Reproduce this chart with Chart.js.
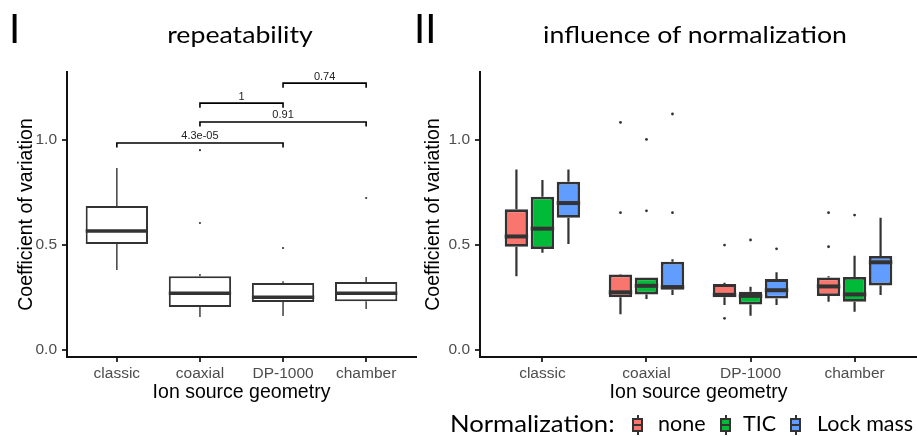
<!DOCTYPE html>
<html>
<head>
<meta charset="utf-8">
<script src="https://cdn.jsdelivr.net/npm/chart.js@4.4.1/dist/chart.umd.min.js"></script>
<style>
  body { margin: 0; width: 917px; height: 437px; background: #fff; position: relative; overflow: hidden; font-family: Lato, sans-serif; }
  canvas { position: absolute; top: 0; }
  .t { position: absolute; color: #000; white-space: nowrap; line-height: 1; }
  .title { top: 22.6px; font-size: 23px; transform: translateX(-50%) scaleX(1.16); }
  .lab { top: 413.4px; font-size: 21.5px; }
  .key { position: absolute; top: 415px; width: 11px; height: 20px; }
  .key .wh { position: absolute; left: 4.5px; top: 0; width: 2px; height: 20px; background: #333; }
  .key .bx { position: absolute; left: 0; top: 3px; width: 11px; height: 14px; box-sizing: border-box; border: 2px solid #333; }
  .key .md { position: absolute; left: 0; top: 9px; width: 11px; height: 2px; background: #333; }
</style>
</head>
<body>
<canvas id="c1" width="417" height="437" style="left:0"></canvas>
<canvas id="c2" width="517" height="437" style="left:400px"></canvas>

<div class="t" style="left:9px;top:7.5px;font-size:40px">I</div>
<div class="t title" style="left:240px">repeatability</div>
<div class="t" style="left:414px;top:7.5px;font-size:40px">II</div>
<div class="t title" style="left:695px">influence of normalization</div>

<div class="t" style="left:450px;top:410.7px;font-size:24px;transform-origin:left;transform:scaleX(1.07)">Normalization:</div>
<div class="key" style="left:632px"><div class="wh"></div><div class="bx" style="background:#F8766D"></div><div class="md"></div></div>
<div class="t lab" style="left:658px">none</div>
<div class="key" style="left:720px"><div class="wh"></div><div class="bx" style="background:#00BA38"></div><div class="md"></div></div>
<div class="t lab" style="left:743px">TIC</div>
<div class="key" style="left:790px"><div class="wh"></div><div class="bx" style="background:#619CFF"></div><div class="md"></div></div>
<div class="t lab" style="left:817px">Lock mass</div>

<script>
// categories
var cats = ['classic', 'coaxial', 'DP-1000', 'chamber'];
var yTicks = [0, 0.5, 1.0];

// panel I: repeatability (no normalization)
var repLo  = [0.381, 0.157, 0.162, 0.195];
var repQ1  = [0.505, 0.205, 0.229, 0.233];
var repMed = [0.567, 0.271, 0.252, 0.271];
var repQ3  = [0.686, 0.352, 0.319, 0.324];
var repHi  = [0.867, 0.362, 0.328, 0.348];
var repOut = [[], [0.605, 0.952], [0.486], [0.724]];

// pairwise comparisons (category numbers 1..4) and p values
var pFrom  = [1, 2, 2, 3];
var pTo    = [3, 4, 3, 4];
var pLevel = [0.986, 1.086, 1.176, 1.271];
var pText  = ['4.3e-05', '0.91', '1', '0.74'];

// panel II: normalization none / TIC / Lock mass
var noneLo  = [0.352, 0.171, 0.214, 0.230];
var noneQ1  = [0.492, 0.251, 0.251, 0.257];
var noneMed = [0.541, 0.275, 0.263, 0.303];
var noneQ3  = [0.670, 0.360, 0.314, 0.346];
var noneHi  = [0.860, 0.362, 0.321, 0.352];
var noneOut = [[], [0.654, 1.084], [0.500, 0.151], [0.654, 0.492]];

var ticLo  = [0.463, 0.243, 0.163, 0.182];
var ticQ1  = [0.481, 0.265, 0.217, 0.230];
var ticMed = [0.578, 0.306, 0.258, 0.265];
var ticQ3  = [0.730, 0.346, 0.278, 0.348];
var ticHi  = [0.810, 0.346, 0.302, 0.449];
var ticOut = [[], [0.663, 1.003], [0.524], [0.643]];

var lockLo  = [0.505, 0.262, 0.214, 0.262];
var lockQ1  = [0.630, 0.287, 0.245, 0.308];
var lockMed = [0.700, 0.300, 0.285, 0.418];
var lockQ3  = [0.802, 0.421, 0.338, 0.448];
var lockHi  = [0.860, 0.432, 0.370, 0.630];
var lockOut = [[], [0.654, 1.124], [0.482], []];

function boxes(q1, q3) {
    return cats.map(function (c, i) { return {x: i + 1, y: [q1[i], q3[i]]}; });
}

// whiskers, medians, outliers and comparison brackets
var boxExtras = {
    id: 'boxExtras',
    beforeDatasetsDraw: function (chart) {
        var ctx = chart.ctx, ys = chart.scales.y;
        chart.data.datasets.forEach(function (ds, d) {
            chart.getDatasetMeta(d).data.forEach(function (bar, i) {
                ctx.save();
                ctx.strokeStyle = '#333333';
                ctx.lineWidth = ds.whisker;
                ctx.beginPath();
                ctx.moveTo(bar.x, ys.getPixelForValue(ds.hi[i]));
                ctx.lineTo(bar.x, ys.getPixelForValue(ds.q3[i]));
                ctx.moveTo(bar.x, ys.getPixelForValue(ds.q1[i]));
                ctx.lineTo(bar.x, ys.getPixelForValue(ds.lo[i]));
                ctx.stroke();
                ctx.restore();
            });
        });
    },
    afterDatasetsDraw: function (chart, args, opts) {
        var ctx = chart.ctx, ys = chart.scales.y, xs = chart.scales.x;
        chart.data.datasets.forEach(function (ds, d) {
            chart.getDatasetMeta(d).data.forEach(function (bar, i) {
                ctx.save();
                ctx.strokeStyle = '#333333';
                ctx.lineWidth = ds.medianWidth;
                var m = ys.getPixelForValue(ds.med[i]);
                ctx.beginPath();
                ctx.moveTo(bar.x - bar.width / 2, m);
                ctx.lineTo(bar.x + bar.width / 2, m);
                ctx.stroke();
                ctx.fillStyle = '#333333';
                ds.out[i].forEach(function (v) {
                    ctx.beginPath();
                    ctx.arc(bar.x, ys.getPixelForValue(v), ds.dot, 0, Math.PI * 2);
                    ctx.fill();
                });
                ctx.restore();
            });
        });
        if (opts && opts.brackets) {
            ctx.save();
            ctx.strokeStyle = '#000';
            ctx.lineWidth = 1.6;
            ctx.fillStyle = '#222';
            ctx.font = '11px "Liberation Sans", Arial, sans-serif';
            ctx.textAlign = 'center';
            ctx.textBaseline = 'alphabetic';
            opts.brackets.from.forEach(function (a, k) {
                var x1 = xs.getPixelForValue(a), x2 = xs.getPixelForValue(opts.brackets.to[k]);
                var yy = ys.getPixelForValue(opts.brackets.level[k]);
                var tip = ys.getPixelForValue(opts.brackets.level[k] - 0.022);
                ctx.beginPath();
                ctx.moveTo(x1, tip);
                ctx.lineTo(x1, yy);
                ctx.lineTo(x2, yy);
                ctx.lineTo(x2, tip);
                ctx.stroke();
                ctx.fillText(opts.brackets.text[k], (x1 + x2) / 2, yy - 3.5);
            });
            ctx.restore();
        }
    }
};

function makeScales(yWidth) {
    return {
        x: {
            type: 'linear', min: 0.4, max: 4.6, offset: false,
            grid: {drawOnChartArea: false, offset: false, tickLength: 5, color: '#333', lineWidth: 2},
            border: {display: true, color: '#111', width: 2},
            afterBuildTicks: function (s) { s.ticks = cats.map(function (c, i) { return {value: i + 1}; }); },
            ticks: {
                callback: function (v, i) { return cats[i]; },
                color: '#4d4d4d', font: {family: 'Liberation Sans', size: 15.5},
                padding: 2, maxRotation: 0, autoSkip: false
            },
            title: {display: true, text: 'Ion source geometry', color: '#000',
                font: {family: 'Liberation Sans', size: 19.5}, padding: {top: 0, bottom: 0}},
            afterFit: function (s) { s.height = 47; }
        },
        y: {
            min: -0.033, max: 1.324,
            grid: {drawOnChartArea: false, tickLength: 5, color: '#333', lineWidth: 2},
            border: {display: true, color: '#111', width: 2},
            afterBuildTicks: function (s) { s.ticks = yTicks.map(function (v) { return {value: v}; }); },
            ticks: {
                callback: function (v) { return v.toFixed(1); },
                color: '#4d4d4d', font: {family: 'Liberation Sans', size: 15.5}, padding: 5
            },
            title: {display: true, text: 'Coefficient of variation', color: '#000',
                font: {family: 'Liberation Sans', size: 19.5}, padding: {top: 0, bottom: 0}},
            afterFit: function (s) { s.width = yWidth; }
        }
    };
}

new Chart(document.getElementById('c1'), {
    type: 'bar',
    data: {
        datasets: [{
            label: 'repeatability',
            data: boxes(repQ1, repQ3),
            lo: repLo, q1: repQ1, med: repMed, q3: repQ3, hi: repHi, out: repOut,
            backgroundColor: '#ffffff',
            borderColor: '#333333',
            borderWidth: 2,
            borderSkipped: false,
            whisker: 1.4, medianWidth: 3.5, dot: 1.1,
            categoryPercentage: 0.75,
            barPercentage: 1
        }]
    },
    options: {
        responsive: false,
        animation: false,
        layout: {padding: {left: 15, top: 72, right: 1, bottom: 33}},
        scales: makeScales(52),
        plugins: {
            legend: {display: false},
            tooltip: {enabled: false},
            boxExtras: {brackets: {from: pFrom, to: pTo, level: pLevel, text: pText}}
        }
    },
    plugins: [boxExtras]
});

function normSet(label, color, lo, q1, med, q3, hi, out) {
    return {
        label: label,
        data: boxes(q1, q3),
        lo: lo, q1: q1, med: med, q3: q3, hi: hi, out: out,
        backgroundColor: color,
        borderColor: '#333333',
        borderWidth: 2.8,
        borderSkipped: false,
        whisker: 2.2, medianWidth: 4, dot: 1.4,
        categoryPercentage: 0.75,
        barPercentage: 0.9
    };
}

new Chart(document.getElementById('c2'), {
    type: 'bar',
    data: {
        datasets: [
            normSet('none', '#F8766D', noneLo, noneQ1, noneMed, noneQ3, noneHi, noneOut),
            normSet('TIC', '#00BA38', ticLo, ticQ1, ticMed, ticQ3, ticHi, ticOut),
            normSet('Lock mass', '#619CFF', lockLo, lockQ1, lockMed, lockQ3, lockHi, lockOut)
        ]
    },
    options: {
        responsive: false,
        animation: false,
        layout: {padding: {left: 22, top: 72, right: 0, bottom: 33}},
        scales: makeScales(58),
        plugins: {
            legend: {display: false},
            tooltip: {enabled: false}
        }
    },
    plugins: [boxExtras]
});
</script>
</body>
</html>
